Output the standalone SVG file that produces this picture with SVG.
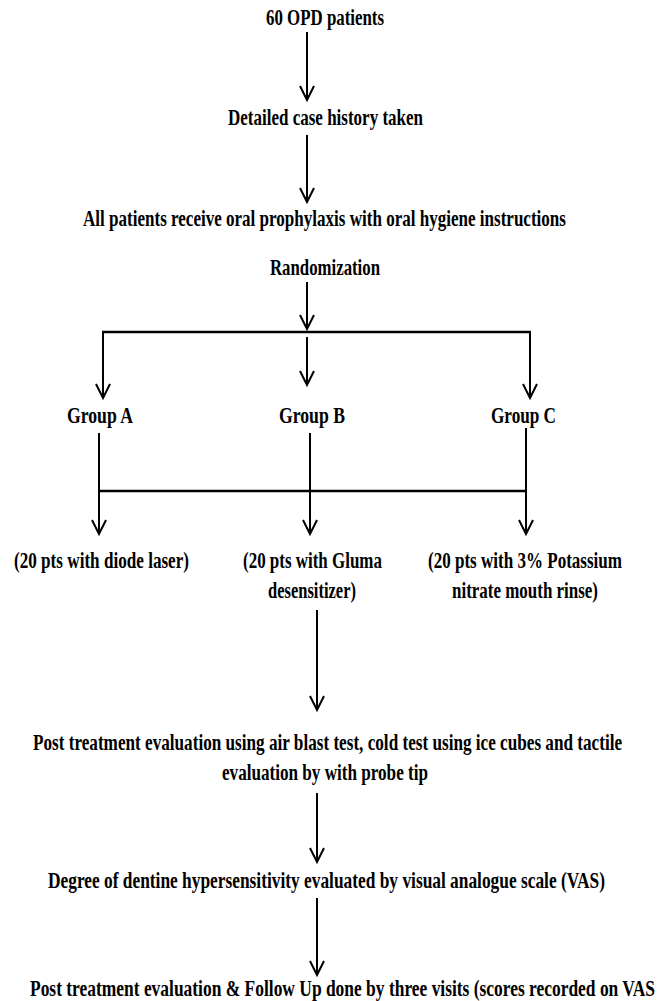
<svg xmlns="http://www.w3.org/2000/svg" width="662" height="1001" viewBox="0 0 662 1001">
<style>
text{font-family:"Liberation Serif","Times New Roman",serif;font-weight:bold;font-size:22.5px;fill:#000}
.ln{stroke:#000;stroke-width:2;fill:none}
.hl{stroke:#000;stroke-width:2.6;fill:none}
.ar{stroke:#000;stroke-width:2;fill:none;marker-end:url(#ah)}
</style>
<defs>
<marker id="ah" markerUnits="userSpaceOnUse" markerWidth="18" markerHeight="18" refX="15" refY="8" orient="auto" viewBox="0 0 18 16">
<path d="M1,1 L15,8 L1,15" fill="none" stroke="#000" stroke-width="2"/>
</marker>
</defs>
<rect width="662" height="1001" fill="#fff"/>
<g id="connectors">
<line class="ar" x1="307" y1="32" x2="307" y2="100"/>
<line class="ar" x1="307" y1="135" x2="307" y2="202"/>
<line class="ar" x1="307" y1="282" x2="307" y2="329"/>
<line class="hl" x1="102" y1="332" x2="531" y2="332"/>
<line class="ar" x1="103" y1="332" x2="103" y2="398"/>
<line class="ar" x1="530" y1="332" x2="530" y2="398"/>
<line class="ar" x1="307" y1="337" x2="307" y2="385"/>
<line class="ln" x1="99" y1="433" x2="99" y2="492"/>
<line class="ln" x1="310" y1="433" x2="310" y2="492"/>
<line class="ln" x1="526" y1="428" x2="526" y2="492"/>
<line class="hl" x1="98" y1="491" x2="527" y2="491"/>
<line class="ar" x1="99" y1="492" x2="99" y2="534"/>
<line class="ar" x1="310" y1="492" x2="310" y2="534"/>
<line class="ar" x1="526" y1="492" x2="526" y2="534"/>
<line class="ar" x1="317" y1="610" x2="317" y2="710"/>
<line class="ar" x1="317" y1="793" x2="317" y2="862"/>
<line class="ar" x1="317" y1="898" x2="317" y2="975"/>
</g>
<g id="n1"><text transform="translate(266,25) scale(0.757,1)" textLength="155.9" lengthAdjust="spacingAndGlyphs">60 OPD patients</text></g>
<g id="n2"><text transform="translate(228,125) scale(0.757,1)" textLength="257.6" lengthAdjust="spacingAndGlyphs">Detailed case history taken</text></g>
<g id="n3"><text transform="translate(83,226) scale(0.757,1)" textLength="638" lengthAdjust="spacingAndGlyphs">All patients receive oral prophylaxis with oral hygiene instructions</text></g>
<g id="n4"><text transform="translate(270,275) scale(0.757,1)" textLength="145.3" lengthAdjust="spacingAndGlyphs">Randomization</text></g>
<g id="gA"><text transform="translate(67,423) scale(0.757,1)" textLength="87.2" lengthAdjust="spacingAndGlyphs">Group A</text></g>
<g id="gB"><text transform="translate(279,423) scale(0.757,1)" textLength="87.2" lengthAdjust="spacingAndGlyphs">Group B</text></g>
<g id="gC"><text transform="translate(491,423) scale(0.757,1)" textLength="85.9" lengthAdjust="spacingAndGlyphs">Group C</text></g>
<g id="tA"><text transform="translate(14,568) scale(0.757,1)" textLength="231.2" lengthAdjust="spacingAndGlyphs">(20 pts with diode laser)</text></g>
<g id="tB"><text transform="translate(243,568) scale(0.757,1)" textLength="183.6" lengthAdjust="spacingAndGlyphs">(20 pts with Gluma</text><text transform="translate(268,598) scale(0.757,1)" textLength="116.2" lengthAdjust="spacingAndGlyphs">desensitizer)</text></g>
<g id="tC"><text transform="translate(428,568) scale(0.757,1)" textLength="256.3" lengthAdjust="spacingAndGlyphs">(20 pts with 3% Potassium</text><text transform="translate(452,598) scale(0.757,1)" textLength="192.9" lengthAdjust="spacingAndGlyphs">nitrate mouth rinse)</text></g>
<g id="n5"><text transform="translate(33,750) scale(0.757,1)" textLength="778.1" lengthAdjust="spacingAndGlyphs">Post treatment evaluation using air blast test, cold test using ice cubes and tactile</text><text transform="translate(222,780) scale(0.757,1)" textLength="272.1" lengthAdjust="spacingAndGlyphs">evaluation by with probe tip</text></g>
<g id="n6"><text transform="translate(48,888) scale(0.757,1)" textLength="735.8" lengthAdjust="spacingAndGlyphs">Degree of dentine hypersensitivity evaluated by visual analogue scale (VAS)</text></g>
<g id="n7"><text transform="translate(30,996) scale(0.757,1)" textLength="825.6" lengthAdjust="spacingAndGlyphs">Post treatment evaluation &amp; Follow Up done by three visits (scores recorded on VAS</text></g>
</svg>
